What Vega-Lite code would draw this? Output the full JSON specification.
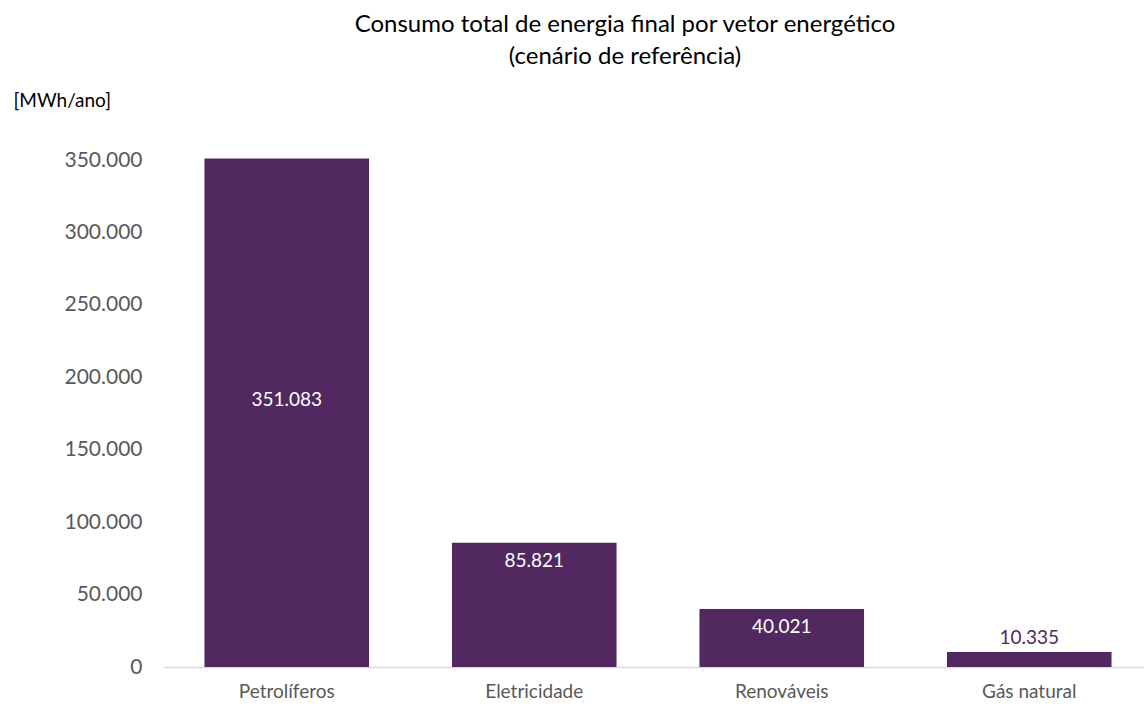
{
  "$schema": "https://vega.github.io/schema/vega-lite/v6.json",
  "width": 990,
  "height": 507,
  "autosize": {"type": "none"},
  "padding": {"left": 163, "top": 160, "right": 0, "bottom": 39},
  "background": "white",
  "config": {
    "locale": {"number": {"decimal": ",", "thousands": ".", "grouping": [3], "currency": ["", " €"]}},
    "font": "Lato",
    "view": {"stroke": null}
  },
  "title": {
    "text": ["Consumo total de energia final por vetor energético", "(cenário de referência)"],
    "font": "Lato",
    "fontSize": 24,
    "fontWeight": "normal",
    "color": "#000000",
    "lineHeight": 32,
    "anchor": "middle",
    "frame": "group",
    "dx": -33,
    "offset": 22
  },
  "data": {
    "values": [
      {"vetor": "Petrolíferos", "valor": 351083},
      {"vetor": "Eletricidade", "valor": 85821},
      {"vetor": "Renováveis", "valor": 40021},
      {"vetor": "Gás natural", "valor": 10335}
    ]
  },
  "encoding": {
    "x": {
      "field": "vetor",
      "type": "nominal",
      "sort": null,
      "scale": {"paddingInner": 0.335, "paddingOuter": 0.1675},
      "axis": {
        "title": null,
        "labelAngle": 0,
        "labelFont": "Lato",
        "labelFontSize": 19,
        "labelColor": "#595959",
        "labelPadding": 15,
        "ticks": false,
        "domainColor": "#d9d9d9",
        "domainWidth": 1.3
      }
    },
    "y": {
      "field": "valor",
      "type": "quantitative",
      "scale": {"domain": [0, 350000], "nice": false},
      "axis": {
        "title": "[MWh/ano]",
        "titleAngle": 0,
        "titleAlign": "left",
        "titleBaseline": "middle",
        "titleX": -150,
        "titleY": -60,
        "titleFont": "Lato",
        "titleFontSize": 19,
        "titleFontWeight": "normal",
        "titleColor": "#000000",
        "values": [0, 50000, 100000, 150000, 200000, 250000, 300000, 350000],
        "format": ",d",
        "labelFont": "Lato",
        "labelFontSize": 21,
        "labelColor": "#595959",
        "labelPadding": 21,
        "ticks": false,
        "domain": false,
        "grid": false
      }
    }
  },
  "layer": [
    {"mark": {"type": "bar", "color": "#51285F"}},
    {
      "transform": [{"filter": "datum.vetor === 'Eletricidade' || datum.vetor === 'Renováveis'"}],
      "mark": {"type": "text", "color": "white", "fontSize": 19, "baseline": "middle", "dy": 18},
      "encoding": {"text": {"field": "valor", "type": "quantitative", "format": ",d"}}
    },
    {
      "transform": [{"filter": "datum.vetor === 'Petrolíferos'"}],
      "mark": {"type": "text", "color": "white", "fontSize": 19, "baseline": "middle", "dy": 242},
      "encoding": {"text": {"field": "valor", "type": "quantitative", "format": ",d"}}
    },
    {
      "transform": [{"filter": "datum.vetor === 'Gás natural'"}],
      "mark": {"type": "text", "color": "#51285F", "fontSize": 19, "baseline": "middle", "dy": -14},
      "encoding": {"text": {"field": "valor", "type": "quantitative", "format": ",d"}}
    }
  ]
}
